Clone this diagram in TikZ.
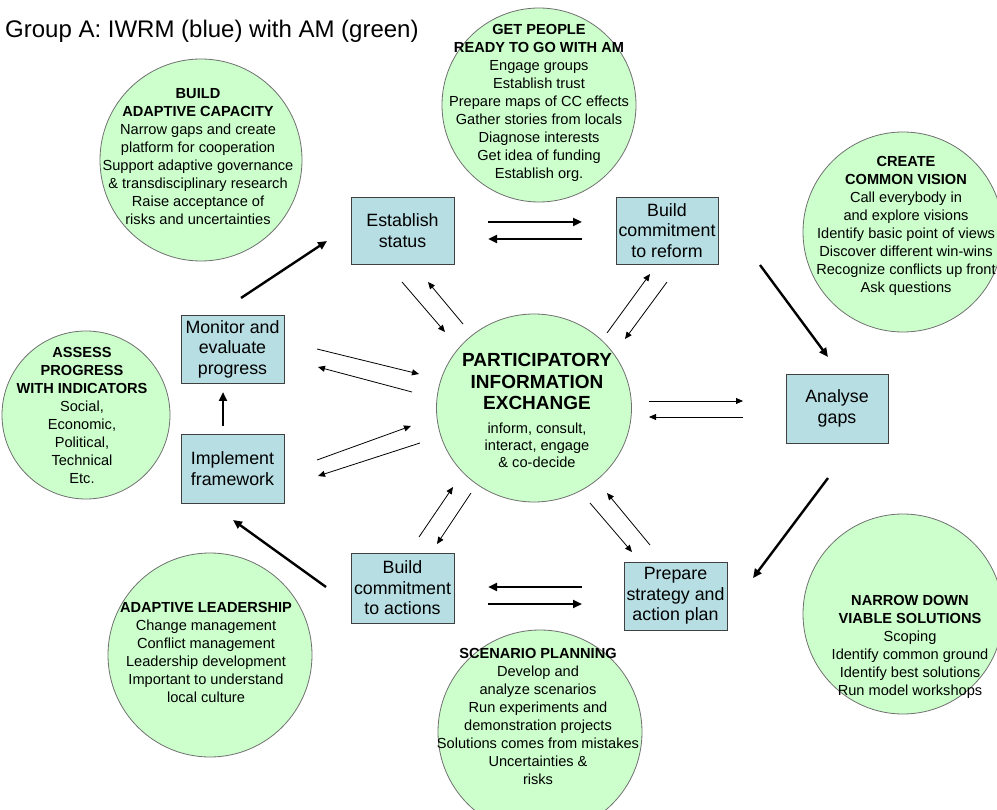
\documentclass[tikz,border=0pt]{standalone}
\usepackage{fontspec}
\setmainfont{Liberation Sans}
\usetikzlibrary{arrows.meta,shapes.geometric}
\definecolor{cgreen}{HTML}{CCFFCC}
\definecolor{cblue}{HTML}{B7DEE3}
\definecolor{cedge}{HTML}{707070}
\definecolor{bedge}{HTML}{404040}
\begin{document}
\begin{tikzpicture}[x=1pt,y=-1pt,
 circ/.style={circle, draw=cedge, fill=cgreen, line width=0.8pt, inner sep=0pt},
 box/.style={rectangle, draw=bedge, fill=cblue, line width=0.9pt, align=center, inner sep=0pt, font=\fontsize{17.8}{20.5}\selectfont},
 ctext/.style={align=center, inner sep=0pt, font=\fontsize{14.6}{18}\selectfont},
 thickar/.style={-{Triangle[length=9pt,width=8pt]}, line width=2.4pt},
 thinar/.style={-{Triangle[length=7pt,width=6pt]}, line width=0.8pt},
]
\fill[white] (0,0) rectangle (997,810);
\useasboundingbox (0,0) rectangle (997,810);

% title
\node[anchor=west, inner sep=0pt, font=\fontsize{24}{28}\selectfont] (title) at (5,31) {Group A: IWRM (blue) with AM (green)};

% circles
\node[circ, minimum size=202pt] (c1) at (201,160) {};
\node[circ, minimum size=194pt] (c2) at (539,105) {};
\node[circ, minimum size=200pt] (c3) at (903,232) {};
\node[circ, minimum size=168pt] (c4) at (86,415) {};
\node[ellipse, draw=cedge, fill=cgreen, line width=0.8pt, inner sep=0pt, minimum width=195pt, minimum height=188pt] (c5) at (534,408) {};
\node[circ, minimum size=204pt] (c6) at (210,655) {};
\node[circ, minimum size=204pt] (c7) at (540,732) {};
\node[circ, minimum size=200pt] (c8) at (903,614) {};

% circle texts
\node[ctext] (c1t) at (198,156.5) {\textbf{BUILD}\\\textbf{ADAPTIVE CAPACITY}\\Narrow gaps and create\\platform for cooperation\\Support adaptive governance\\\& transdisciplinary research\\Raise acceptance of\\risks and uncertainties};
\node[ctext] (c2t) at (539,103) {\textbf{GET PEOPLE}\\\textbf{READY TO GO WITH AM}\\Engage groups\\Establish trust\\Prepare maps of CC effects\\Gather stories from locals\\Diagnose interests\\Get idea of funding\\Establish org.};
\node[ctext] (c3t) at (906,226) {\textbf{CREATE}\\\textbf{COMMON VISION}\\Call everybody in\\and explore visions\\Identify basic point of views\\Discover different win-wins\\Recognize conflicts up front\\Ask questions};
\node[ctext] (c4t) at (82,415) {\textbf{ASSESS}\\\textbf{PROGRESS}\\\textbf{WITH INDICATORS}\\Social,\\Economic,\\Political,\\Technical\\Etc.};
\node[align=center, inner sep=0pt, font=\fontsize{19}{21.5}\selectfont\bfseries] (c5h) at (537,381.5) {PARTICIPATORY\\INFORMATION\\EXCHANGE};
\node[ctext, font=\fontsize{14.6}{17}\selectfont] (c5t) at (537,445) {inform, consult,\\interact, engage\\\& co-decide};
\node[ctext] (c6t) at (206,652) {\textbf{ADAPTIVE LEADERSHIP}\\Change management\\Conflict management\\Leadership development\\Important to understand\\local culture};
\node[ctext] (c7t) at (538,716) {\textbf{SCENARIO PLANNING}\\Develop and\\analyze scenarios\\Run experiments and\\demonstration projects\\Solutions comes from mistakes\\Uncertainties \&\\risks};
\node[ctext] (c8t) at (910,647) {\textbf{NARROW DOWN}\\\textbf{VIABLE SOLUTIONS}\\Scoping\\Identify common ground\\Identify best solutions\\Run model workshops};

% boxes
\node[box, minimum width=103pt, minimum height=67pt] (est) at (402.5,230.5) {Establish\\status};
\node[box, minimum width=102pt, minimum height=67pt] (ref) at (667,230.5) {Build\\commitment\\to reform};
\node[box, minimum width=103pt, minimum height=68pt] (mon) at (232.5,349) {Monitor and\\evaluate\\progress};
\node[box, minimum width=103pt, minimum height=69pt] (imp) at (232.5,468.5) {Implement\\framework};
\node[box, minimum width=103pt, minimum height=70pt] (act) at (402.5,588) {Build\\commitment\\to actions};
\node[box, minimum width=103pt, minimum height=68pt] (pre) at (675.5,596) {Prepare\\strategy and\\action plan};
\node[box, minimum width=102pt, minimum height=69pt] (gap) at (837,408.5) {Analyse\\gaps};

% connector end points
\coordinate (a1s) at (241,298); \coordinate (a1e) at (327,241);
\coordinate (a2s) at (760,265); \coordinate (a2e) at (828,357);
\coordinate (a3s) at (828,478); \coordinate (a3e) at (753,578);
\coordinate (a4s) at (326,587); \coordinate (a4e) at (233,520);
\coordinate (a5s) at (223,426); \coordinate (a5e) at (223,392);
\coordinate (h1s) at (488,222); \coordinate (h1e) at (582,222);
\coordinate (h2s) at (582,239); \coordinate (h2e) at (488,239);
\coordinate (h3s) at (582,587); \coordinate (h3e) at (488,587);
\coordinate (h4s) at (488,604); \coordinate (h4e) at (582,604);
\coordinate (t1s) at (402,282); \coordinate (t1e) at (445,332);
\coordinate (t2s) at (463,324); \coordinate (t2e) at (428,282);
\coordinate (t3s) at (607,333); \coordinate (t3e) at (650,274);
\coordinate (t4s) at (667,282); \coordinate (t4e) at (625,339);
\coordinate (t5s) at (317,349); \coordinate (t5e) at (419,374);
\coordinate (t6s) at (412,392); \coordinate (t6e) at (318,367);
\coordinate (t7s) at (317,460); \coordinate (t7e) at (411,426);
\coordinate (t8s) at (420,443); \coordinate (t8e) at (318,476);
\coordinate (t9s) at (649,401); \coordinate (t9e) at (743,401);
\coordinate (t10s) at (743,417); \coordinate (t10e) at (649,417);
\coordinate (t11s) at (419,537); \coordinate (t11e) at (453,487);
\coordinate (t12s) at (471,493); \coordinate (t12e) at (437,544);
\coordinate (t13s) at (590,503); \coordinate (t13e) at (632,552);
\coordinate (t14s) at (650,545); \coordinate (t14e) at (607,493);

% thick arrows
\foreach \n in {a1,a2,a3,a4,a5,h1,h2,h3,h4}{\draw[thickar] (\n s) -- (\n e);}
% thin arrows
\foreach \n in {t1,t2,t3,t4,t5,t6,t7,t8,t9,t10,t11,t12,t13,t14}{\draw[thinar] (\n s) -- (\n e);}
\end{tikzpicture}
\end{document}
